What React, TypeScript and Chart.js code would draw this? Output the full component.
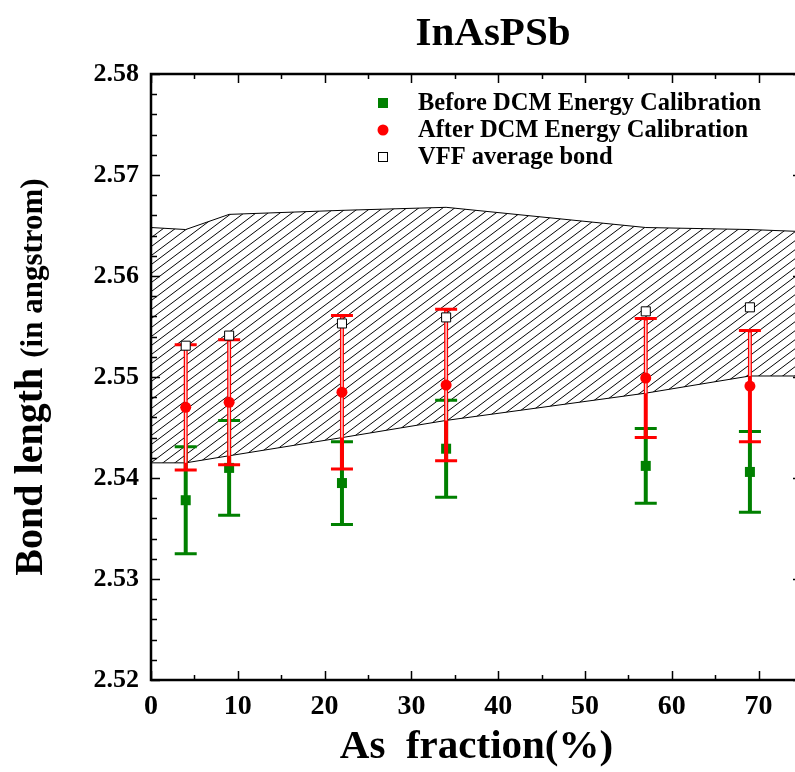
import React, { useEffect, useRef } from 'react';
import { Chart, registerables } from 'chart.js';

Chart.register(...registerables);

// ---- data ----
const asFraction = [4, 9, 22, 34, 57, 69];
const beforeValues = [2.5378, 2.541, 2.5395, 2.5429, 2.5412, 2.5406];
const beforeErrors = [0.0053, 0.0047, 0.0041, 0.0048, 0.0037, 0.004];
const afterValues = [2.547, 2.5475, 2.5485, 2.5492, 2.5499, 2.5491];
const afterErrors = [0.0062, 0.0062, 0.0076, 0.0075, 0.0059, 0.0055];
const vffValues = [2.5531, 2.5541, 2.5553, 2.5559, 2.5565, 2.5569];

const bandX = [0, 4, 9, 22, 34, 57, 69, 75];
const bandUpper = [2.5648, 2.5646, 2.5661, 2.5665, 2.5668, 2.5648, 2.5646, 2.5644];
const bandLower = [2.5415, 2.5415, 2.5422, 2.544, 2.5457, 2.5484, 2.5501, 2.5501];

const xMajorTicks = [0, 10, 20, 30, 40, 50, 60, 70];
const xMinorStep = 5;
const yMajorStep = 0.01;
const yMinorStep = 0.002;

const chartTitle = 'InAsPSb';
const xTitle = 'As  fraction(%)';
const yTitleMain = 'Bond length ';
const yTitleUnit = '(in angstrom)';
const legendLabels = ['Before DCM Energy Calibration', 'After DCM Energy Calibration', 'VFF average bond'];

const GREEN = '#008000';
const RED = '#ff0000';
const SERIF = '"Liberation Serif", "Times New Roman", serif';

function interp(xs: number[], ys: number[], x: number) {
  for (let i = 0; i < xs.length - 1; i++) {
    if (x >= xs[i] && x <= xs[i + 1]) {
      const t = (x - xs[i]) / (xs[i + 1] - xs[i]);
      return ys[i] + t * (ys[i + 1] - ys[i]);
    }
  }
  return ys[ys.length - 1];
}

const errorMap: Record<string, { errors: number[]; color: string; hollow: boolean }> = {
  before: { errors: beforeErrors, color: GREEN, hollow: false },
  after: { errors: afterErrors, color: RED, hollow: true },
};

const errorBarPlugin = {
  id: 'errorBars',
  beforeDatasetDraw(chart: any, args: any) {
    const ds = chart.data.datasets[args.index];
    const cfg = errorMap[ds.key];
    if (!cfg) return;
    const { ctx } = chart;
    const xs = chart.scales.x;
    const ys = chart.scales.y;
    ctx.save();
    ds.data.forEach((p: any, i: number) => {
      const px = xs.getPixelForValue(p.x);
      const yt = ys.getPixelForValue(p.y + cfg.errors[i]);
      const yb = ys.getPixelForValue(p.y - cfg.errors[i]);
      ctx.strokeStyle = cfg.color;
      ctx.lineWidth = 4;
      ctx.beginPath();
      ctx.moveTo(px, yt);
      ctx.lineTo(px, yb);
      ctx.stroke();
      ctx.lineWidth = 3;
      ctx.beginPath();
      ctx.moveTo(px - 11, yt);
      ctx.lineTo(px + 11, yt);
      ctx.moveTo(px - 11, yb);
      ctx.lineTo(px + 11, yb);
      ctx.stroke();
      if (cfg.hollow) {
        const lowPx = ys.getPixelForValue(interp(bandX, bandLower, p.x));
        const end = Math.min(lowPx, yb - 2);
        if (end > yt + 2) {
          ctx.strokeStyle = 'rgba(255,255,255,0.85)';
          ctx.lineWidth = 1.4;
          ctx.beginPath();
          ctx.moveTo(px, yt + 2);
          ctx.lineTo(px, end);
          ctx.stroke();
        }
      }
    });
    ctx.restore();
  },
};

const framePlugin = {
  id: 'frameAndText',
  afterDatasetsDraw(chart: any) {
    const { ctx, chartArea: a } = chart;
    const xs = chart.scales.x;
    const ys = chart.scales.y;
    ctx.save();
    ctx.strokeStyle = '#000';
    ctx.lineWidth = 1.5;
    ctx.beginPath();
    for (let v = xs.min; v <= xs.max + 1e-9; v += xMinorStep) {
      const px = Math.round(xs.getPixelForValue(v)) + 0.5;
      const major = xMajorTicks.includes(Math.round(v));
      const len = major ? 9 : 5;
      ctx.moveTo(px, a.bottom);
      ctx.lineTo(px, a.bottom - len);
      ctx.moveTo(px, a.top);
      ctx.lineTo(px, a.top + len);
    }
    const nMinor = Math.round((ys.max - ys.min) / yMinorStep);
    const per = Math.round(yMajorStep / yMinorStep);
    for (let k = 0; k <= nMinor; k++) {
      const v = ys.min + k * yMinorStep;
      const py = Math.round(ys.getPixelForValue(v)) + 0.5;
      const len = k % per === 0 ? 9 : 6;
      ctx.moveTo(a.left, py);
      ctx.lineTo(a.left + len, py);
      ctx.moveTo(a.right, py);
      ctx.lineTo(a.right - len, py);
    }
    ctx.stroke();
    ctx.lineWidth = 2.5;
    ctx.strokeRect(a.left, a.top, a.right - a.left, a.bottom - a.top);
    ctx.restore();
  },
  afterDraw(chart: any) {
    const { ctx, chartArea: a } = chart;
    ctx.save();
    ctx.fillStyle = '#000';
    ctx.font = `bold 41px ${SERIF}`;
    ctx.textAlign = 'center';
    ctx.textBaseline = 'alphabetic';
    ctx.fillText(chartTitle, 493, 45);

    // y title
    ctx.save();
    const cy = (a.top + a.bottom) / 2;
    ctx.translate(42, cy);
    ctx.rotate(-Math.PI / 2);
    const f1 = `bold 40px ${SERIF}`;
    const f2 = `bold 31px ${SERIF}`;
    ctx.font = f1;
    const w1 = ctx.measureText(yTitleMain).width;
    ctx.font = f2;
    const w2 = ctx.measureText(yTitleUnit).width;
    const start = -(w1 + w2) / 2;
    ctx.textAlign = 'left';
    ctx.font = f1;
    ctx.fillText(yTitleMain, start, 0);
    ctx.font = f2;
    ctx.fillText(yTitleUnit, start + w1, 0);
    ctx.restore();

    // legend
    const lx = 383;
    const rows = [a.top + 29, a.top + 56, a.top + 83];
    ctx.fillStyle = GREEN;
    ctx.fillRect(lx - 5, rows[0] - 5, 10, 10);
    ctx.fillStyle = RED;
    ctx.beginPath();
    ctx.arc(lx, rows[1], 5.5, 0, Math.PI * 2);
    ctx.fill();
    ctx.fillStyle = '#fff';
    ctx.strokeStyle = '#000';
    ctx.lineWidth = 1;
    ctx.fillRect(lx - 4.5, rows[2] - 4.5, 9, 9);
    ctx.strokeRect(lx - 4.5, rows[2] - 4.5, 9, 9);
    ctx.fillStyle = '#000';
    ctx.font = `bold 24.5px ${SERIF}`;
    ctx.textAlign = 'left';
    ctx.textBaseline = 'middle';
    legendLabels.forEach((t, i) => ctx.fillText(t, 418, rows[i] + 1));
    ctx.restore();
  },
};

function makeHatch() {
  const pc = document.createElement('canvas');
  pc.width = 12;
  pc.height = 9;
  const p = pc.getContext('2d')!;
  p.strokeStyle = '#000';
  p.lineWidth = 1;
  p.beginPath();
  for (let k = -1; k <= 2; k++) {
    p.moveTo(-2, 9 * k + 1.5);
    p.lineTo(14, 9 * k - 10.5);
  }
  p.stroke();
  return p.createPattern(pc, 'repeat');
}

export default function App() {
  const ref = useRef<HTMLCanvasElement | null>(null);

  useEffect(() => {
    if (!ref.current) return;
    const hatch = makeHatch();
    const pts = (vals: number[]) => asFraction.map((x, i) => ({ x, y: vals[i] }));
    const chart = new Chart(ref.current, {
      type: 'line',
      data: {
        datasets: [
          {
            key: 'vff',
            label: legendLabels[2],
            data: pts(vffValues),
            showLine: false,
            pointStyle: 'rect',
            pointRadius: 6.4,
            backgroundColor: '#fff',
            borderColor: '#000',
            pointBorderWidth: 1,
            order: 0,
          } as any,
          {
            key: 'after',
            label: legendLabels[1],
            data: pts(afterValues),
            showLine: false,
            pointStyle: 'circle',
            pointRadius: 5.5,
            backgroundColor: RED,
            borderColor: RED,
            pointBorderWidth: 0,
            order: 1,
          } as any,
          {
            key: 'before',
            label: legendLabels[0],
            data: pts(beforeValues),
            showLine: false,
            pointStyle: 'rect',
            pointRadius: 7.07,
            backgroundColor: GREEN,
            borderColor: GREEN,
            pointBorderWidth: 0,
            order: 2,
          } as any,
          {
            key: 'bandUpper',
            label: 'band upper',
            data: bandX.map((x, i) => ({ x, y: bandUpper[i] })),
            borderColor: '#000',
            borderWidth: 1,
            pointRadius: 0,
            tension: 0,
            fill: '+1',
            backgroundColor: hatch,
            order: 3,
          } as any,
          {
            key: 'bandLower',
            label: 'band lower',
            data: bandX.map((x, i) => ({ x, y: bandLower[i] })),
            borderColor: '#000',
            borderWidth: 1,
            pointRadius: 0,
            tension: 0,
            fill: false,
            order: 4,
          } as any,
        ],
      },
      options: {
        responsive: false,
        animation: false,
        events: [],
        layout: { padding: { left: 0, right: 10, top: 74, bottom: 0 } },
        plugins: {
          legend: { display: false },
          tooltip: { enabled: false },
          title: { display: false },
        },
        scales: {
          x: {
            type: 'linear',
            min: 0,
            max: 75,
            grid: { display: false, drawTicks: false },
            border: { display: false },
            ticks: {
              stepSize: 10,
              autoSkip: false,
              maxRotation: 0,
              padding: 10,
              color: '#000',
              font: { family: SERIF, size: 28, weight: 'bold' },
            },
            afterBuildTicks: (s: any) => {
              s.ticks = xMajorTicks.map((v) => ({ value: v }));
            },
            title: {
              display: true,
              text: xTitle,
              color: '#000',
              font: { family: SERIF, size: 41, weight: 'bold' },
              padding: { top: 0, bottom: 0 },
            },
            afterFit: (s: any) => {
              s.height = 92;
            },
          },
          y: {
            min: 2.52,
            max: 2.58,
            grid: { display: false, drawTicks: false },
            border: { display: false },
            ticks: {
              stepSize: yMajorStep,
              padding: 12,
              color: '#000',
              font: { family: SERIF, size: 26, weight: 'bold' },
              callback: (v: any) => Number(v).toFixed(2),
            },
            afterFit: (s: any) => {
              s.width = 151;
            },
          },
        },
      } as any,
      plugins: [errorBarPlugin, framePlugin],
    });
    return () => chart.destroy();
  }, []);

  return (
    <div style={{ position: 'fixed', left: 0, top: 0, width: 795, height: 772, overflow: 'hidden', background: '#fff' }}>
      <canvas ref={ref} width={812} height={772} style={{ width: 812, height: 772, display: 'block' }} />
    </div>
  );
}
